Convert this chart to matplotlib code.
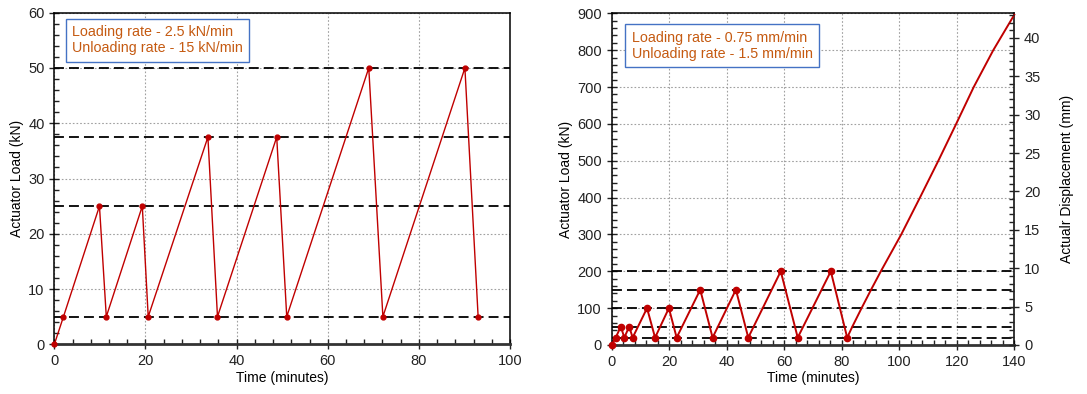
import matplotlib
matplotlib.use("Agg")
import matplotlib.pyplot as plt
from matplotlib.ticker import MultipleLocator

plt.rcParams['font.family'] = ['Liberation Sans', 'DejaVu Sans']
plt.rcParams['font.size'] = 10

# ---- Left chart data (load-controlled cycles) ----
left_time = [0, 2.0, 9.9, 11.4, 19.3, 20.6, 33.7, 35.8, 48.8, 51.0, 69.0, 72.1, 90.1, 93.0]
left_load = [0, 5, 25, 5, 25, 5, 37.5, 5, 37.5, 5, 50, 5, 50, 5]
left_levels = [5, 25, 37.5, 50]
left_note = "Loading rate - 2.5 kN/min\nUnloading rate - 15 kN/min"

# ---- Right chart data (displacement-controlled cycles) ----
right_cycle_time = [0, 1.4, 3.2, 4.4, 6.1, 7.3, 12.3, 15.1, 19.9, 22.6, 30.8, 35.1,
                    43.2, 47.5, 58.8, 64.7, 76.2, 81.9]
right_cycle_load = [0, 20, 50, 20, 50, 20, 100, 20, 100, 20, 150, 20,
                    150, 20, 200, 20, 200, 20]
right_final_time = [81.9, 83.7, 86.9, 90.2, 93.6, 100.7, 107.2, 113.6, 119.8, 125.9, 132.7, 140]
right_final_load = [20, 50, 100, 150, 200, 300, 400, 500, 600, 700, 800, 896]
right_levels = [20, 50, 100, 150, 200]
right_note = "Loading rate - 0.75 mm/min\nUnloading rate - 1.5 mm/min"

RED = "#C00000"
ORANGE = "#C55A11"
BLUE = "#4472C4"

fig = plt.figure(figsize=(10.87, 3.94), dpi=100)
axL = fig.add_axes([0.0500, 0.1261, 0.4192, 0.8417])
axR = fig.add_axes([0.5627, 0.1244, 0.3704, 0.8418])


def style(ax, xmax, ymax, xmaj, xmin, ymaj, ymin):
    ax.set_xlim(0, xmax)
    ax.set_ylim(0, ymax)
    ax.xaxis.set_major_locator(MultipleLocator(xmaj))
    ax.xaxis.set_minor_locator(MultipleLocator(xmin))
    ax.yaxis.set_major_locator(MultipleLocator(ymaj))
    ax.yaxis.set_minor_locator(MultipleLocator(ymin))
    ax.grid(True, which='major', color='#a0a0a0', linestyle=(0, (1.5, 1.8)), linewidth=0.8)
    ax.set_axisbelow(True)
    ax.tick_params(which='major', direction='inout', length=7, width=1, colors='#222222',
                   labelsize=10.5)
    ax.tick_params(which='minor', direction='in', length=3.5, width=1, colors='#222222')
    for s in ['left', 'top', 'right']:
        ax.spines[s].set_linewidth(1.1)
        ax.spines[s].set_color('black')
    ax.spines['bottom'].set_linewidth(2)
    ax.spines['bottom'].set_color('#333333')
    ax.set_xlabel("Time (minutes)", fontsize=10, labelpad=2)
    ax.set_ylabel("Actuator Load (kN)", fontsize=10, labelpad=3)


# Left
style(axL, 100, 60, 20, 4, 10, 2)
for lv in left_levels:
    axL.axhline(lv, color='black', linewidth=1.3, dashes=(5.5, 2.8), zorder=2)
axL.plot(left_time, left_load, color=RED, linewidth=1.0, marker='o', markersize=3.5,
         zorder=3, clip_on=False)
axL.text(0.039, 0.962, left_note, transform=axL.transAxes, ha='left', va='top',
         color=ORANGE, fontsize=10.3, linespacing=1.2,
         bbox=dict(boxstyle='square,pad=0.45', facecolor='white', edgecolor=BLUE, linewidth=1.0),
         zorder=5)

# Right
style(axR, 140, 900, 20, 4, 100, 20)
for lv in right_levels:
    axR.axhline(lv, color='black', linewidth=1.3, dashes=(5.5, 2.8), zorder=2)
axR.plot(right_final_time, right_final_load, color=RED, linewidth=1.4, zorder=3, clip_on=False)
axR.plot(right_cycle_time, right_cycle_load, color=RED, linewidth=1.4, marker='o',
         markersize=4.5, zorder=3, clip_on=False)
axR.text(0.05, 0.948, right_note, transform=axR.transAxes, ha='left', va='top',
         color=ORANGE, fontsize=10.3, linespacing=1.2,
         bbox=dict(boxstyle='square,pad=0.45', facecolor='white', edgecolor=BLUE, linewidth=1.0),
         zorder=5)

axR2 = axR.twinx()
axR2.set_ylim(0, 43.2)
axR2.yaxis.set_major_locator(MultipleLocator(5))
axR2.yaxis.set_minor_locator(MultipleLocator(1))
axR2.tick_params(which='major', direction='inout', length=7, width=1, colors='#222222',
                 labelsize=10.5)
axR2.tick_params(which='minor', direction='in', length=3.5, width=1, colors='#222222')
axR2.set_ylabel("Actualr Displacement (mm)", fontsize=10, labelpad=14)
for s in axR2.spines.values():
    s.set_visible(False)

fig.savefig("out.png", dpi=100)
